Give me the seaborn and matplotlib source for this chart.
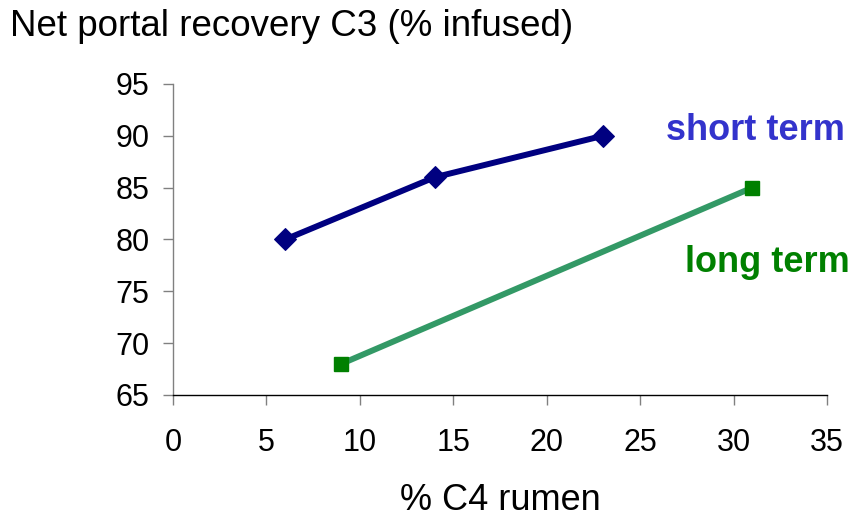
import matplotlib
matplotlib.use("Agg")
import matplotlib.pyplot as plt
import seaborn as sns
import pandas as pd

short_x = [6, 14, 23]
short_y = [80, 86, 90]
long_x = [9, 31]
long_y = [68, 85]
x_ticks = [0, 5, 10, 15, 20, 25, 30, 35]
y_ticks = [65, 70, 75, 80, 85, 90, 95]

sns.set_theme(style="white")
plt.rcParams['font.family'] = ['Liberation Sans', 'DejaVu Sans']

fig = plt.figure(figsize=(8.57, 5.24), dpi=100)
ax = fig.add_axes([173/857, 1 - 395/524, (827 - 173)/857, (395 - 84)/524])

df_s = pd.DataFrame({"x": short_x, "y": short_y})
df_l = pd.DataFrame({"x": long_x, "y": long_y})

sns.lineplot(data=df_s, x="x", y="y", ax=ax, color="#000080", linewidth=4.3,
             marker="D", markersize=11, markeredgecolor="#000080", markerfacecolor="#000080")
sns.lineplot(data=df_l, x="x", y="y", ax=ax, color="#339966", linewidth=4.3)
ax.plot(long_x, long_y, linestyle="none", marker="s", markersize=10,
        markerfacecolor="#008000", markeredgecolor="#008000")

ax.set_xlim(0, 35)
ax.set_ylim(65, 95)
ax.set_xticks(x_ticks)
ax.set_yticks(y_ticks)
ax.set_xlabel("")
ax.set_ylabel("")
ax.tick_params(axis="both", which="major", direction="out", length=7, width=1,
               color="#808080", labelsize=22, labelcolor="black", bottom=True, left=True)
ax.tick_params(axis="x", pad=17)
ax.tick_params(axis="y", pad=10)
for s in ["top", "right"]:
    ax.spines[s].set_visible(False)
ax.spines["left"].set_color("#808080")
ax.spines["bottom"].set_color("black")
ax.spines["left"].set_linewidth(1)
ax.spines["bottom"].set_linewidth(1)
ax.grid(False)

fig.text(10/857, 1 - 26/524, "Net portal recovery C3 (% infused)", fontsize=26.5,
         ha="left", va="center", color="black")
fig.text(500/857, 1 - 500/524, "% C4 rumen", fontsize=26, ha="center", va="center", color="black")
fig.text(755/857, 1 - 131/524, "short term", fontsize=26, fontweight="bold",
         ha="center", va="center", color="#3333CC")
fig.text(767/857, 1 - 262/524, "long term", fontsize=26, fontweight="bold",
         ha="center", va="center", color="#008000")

fig.savefig("out.png", dpi=100)
